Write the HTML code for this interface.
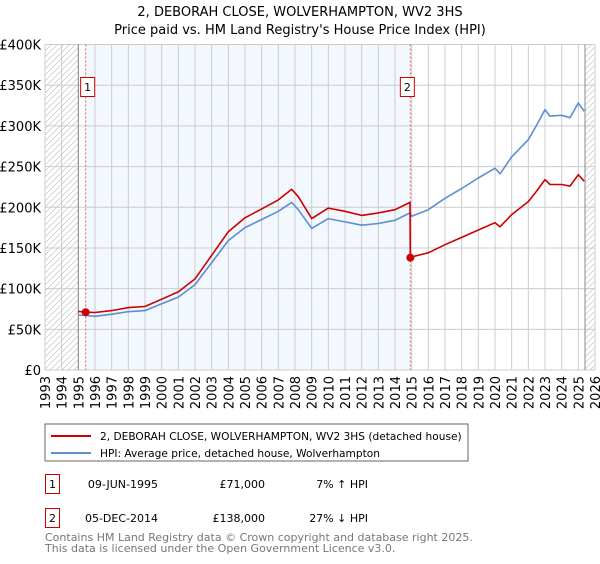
<!DOCTYPE html>
<html><head><meta charset="utf-8"><style>
body{margin:0;background:#fff;font-family:"DejaVu Sans","Liberation Sans",sans-serif;}
svg text{font-family:"DejaVu Sans","Liberation Sans",sans-serif;}
</style></head><body>
<svg id="c" width="600" height="560" xmlns="http://www.w3.org/2000/svg">
<defs><pattern id="hatch" patternUnits="userSpaceOnUse" width="6" height="6"><path d="M-1.5,7.5 L7.5,-1.5" stroke="#ccc" stroke-width="0.8"/></pattern></defs>
<text x="300" y="16" text-anchor="middle" font-size="13">2, DEBORAH CLOSE, WOLVERHAMPTON, WV2 3HS</text>
<text x="300" y="34" text-anchor="middle" font-size="13">Price paid vs. HM Land Registry's House Price Index (HPI)</text>
<g id="plot"></g>
<rect x="45" y="424" width="423" height="37" fill="#fff" stroke="#666"/>
<line x1="51" y1="436" x2="91" y2="436" stroke="#cc0000" stroke-width="2"/>
<text x="100" y="440" font-size="10.6">2, DEBORAH CLOSE, WOLVERHAMPTON, WV2 3HS (detached house)</text>
<line x1="51" y1="453" x2="91" y2="453" stroke="#5b8fd4" stroke-width="2"/>
<text x="100" y="457" font-size="10.6">HPI: Average price, detached house, Wolverhampton</text>
<g>
<rect x="45.5" y="474.5" width="14" height="19" fill="#fff" stroke="#cc0000"/>
<text x="52.5" y="488" text-anchor="middle" font-size="11">1</text>
<text x="158" y="488" text-anchor="end" font-size="11">09-JUN-1995</text>
<text x="265" y="488" text-anchor="end" font-size="11">£71,000</text>
<text x="368" y="488" text-anchor="end" font-size="11">7% ↑ HPI</text></g>
<g>
<rect x="45.5" y="508.5" width="14" height="19" fill="#fff" stroke="#cc0000"/>
<text x="52.5" y="522" text-anchor="middle" font-size="11">2</text>
<text x="158" y="522" text-anchor="end" font-size="11">05-DEC-2014</text>
<text x="265" y="522" text-anchor="end" font-size="11">£138,000</text>
<text x="368" y="522" text-anchor="end" font-size="11">27% ↓ HPI</text></g>
<text x="45" y="541" font-size="11" fill="#777">Contains HM Land Registry data © Crown copyright and database right 2025.</text>
<text x="45" y="552" font-size="11" fill="#777">This data is licensed under the Open Government Licence v3.0.</text>
</svg>
<script>
const hpiYears=[1995.0,1995.44,1996,1997,1998,1999,2000,2001,2002,2003,2004,2005,2006,2007,2007.8,2008.2,2009,2010,2011,2012,2013,2014,2014.9,2015,2016,2017,2018,2019,2020,2020.3,2021,2022,2022.5,2023,2023.3,2024,2024.5,2025,2025.35];
const hpiValues=[67.6,67,66,68.6,71.7,73,81.5,89.6,105,132,159,175,185,195,206,197,174,186,182,178,180,184,193,189,197,211,223,236,248,241,262,283,301,320,312,313,310,328,318];
const priceYears=[1995.0,1995.44,1996,1997,1998,1999,2000,2001,2002,2003,2004,2005,2006,2007,2007.8,2008.2,2009,2010,2011,2012,2013,2014,2014.9,2014.92,2015,2016,2017,2018,2019,2020,2020.3,2021,2022,2022.5,2023,2023.3,2024,2024.5,2025,2025.35];
const priceValues=[72,71,70.6,73,76.7,78,87,96,112,141,170,187,198,209,222,213,186,199,195,190,193,197,206,138,139,144,154,163,172,181,176,191,207,220,234,228,228,226,240,232];
const sales=[{n:'1',year:1995.44,value:71},{n:'2',year:2014.92,value:138}];
const yTicks=[0,50,100,150,200,250,300,350,400];
const yTickLabels=['£0','£50K','£100K','£150K','£200K','£250K','£300K','£350K','£400K'];
const xTicks=[1993,1994,1995,1996,1997,1998,1999,2000,2001,2002,2003,2004,2005,2006,2007,2008,2009,2010,2011,2012,2013,2014,2015,2016,2017,2018,2019,2020,2021,2022,2023,2024,2025,2026];

const L=45,R=595,T=44.5,B=370;
const X=y=>L+(y-1993)/(2026-1993)*(R-L);
const Y=v=>B-v/400*(B-T);
const NS='http://www.w3.org/2000/svg';
const g=document.getElementById('plot');
function mk(t,a,p){const e=document.createElementNS(NS,t);for(const k in a)e.setAttribute(k,a[k]);(p||g).appendChild(e);return e;}
let e;
e=mk('rect',{x:L,y:T,width:R-L,height:B-T,fill:'#fff'});


e=mk('rect',{x:X(sales[0].year),y:T,width:X(sales[1].year)-X(sales[0].year),height:B-T,fill:'#eef3fd',opacity:0.7});


e=mk('rect',{x:L,y:T,width:X(1995)-L,height:B-T,fill:'url(#hatch)'});


e=mk('rect',{x:X(2025.4),y:T,width:R-X(2025.4),height:B-T,fill:'url(#hatch)'});


yTicks.forEach((v,i)=>{
 e=mk('line',{x1:L,x2:R,y1:Y(v),y2:Y(v),stroke:'#ccc','stroke-width':1});
 
 
 e=mk('text',{x:L-4,y:Y(v)+5,'text-anchor':'end','font-size':13});
 e.textContent=yTickLabels[i];
 
 
});
xTicks.forEach(yr=>{
 e=mk('line',{x1:X(yr),x2:X(yr),y1:T,y2:B,stroke:'#ccc','stroke-width':1});
 
 
 e=mk('text',{x:0,y:0,'text-anchor':'end','font-size':13,transform:`translate(${X(yr)+5},${B+6}) rotate(-90)`});
 e.textContent=yr;
 
 
});
[1995,2025.4].forEach(yr=>{
 e=mk('line',{x1:X(yr),x2:X(yr),y1:T,y2:B,stroke:'#888','stroke-width':1});
 
 
});
sales.forEach(s=>{
 e=mk('line',{x1:X(s.year),x2:X(s.year),y1:T,y2:B,stroke:'#e06060','stroke-width':1,'stroke-dasharray':'2,2'});
 
 
});
function line(xs,vs,c,name){
 const d=xs.map((x,i)=>(i?'L':'M')+X(x).toFixed(1)+','+Y(vs[i]).toFixed(1)).join(' ');
 const p=mk('path',{d:d,fill:'none',stroke:c,'stroke-width':1.6,'stroke-linejoin':'round'});
 
 
}
line(hpiYears,hpiValues,'#5b8fd4','hpi-line');
line(priceYears,priceValues,'#cc0000','price-line');
const boxOffset={'1':2,'2':-3};
sales.forEach(s=>{
 e=mk('circle',{cx:X(s.year),cy:Y(s.value),r:4,fill:'#cc0000'});
 
 
 const bx=X(s.year)+boxOffset[s.n];
 e=mk('rect',{x:bx-7,y:77.5,width:14,height:19,fill:'#fff',stroke:'#cc0000'});
 
 
 e=mk('text',{x:bx,y:91,'text-anchor':'middle','font-size':11});
 e.textContent=s.n;
 
 
});
</script>
</body></html>
